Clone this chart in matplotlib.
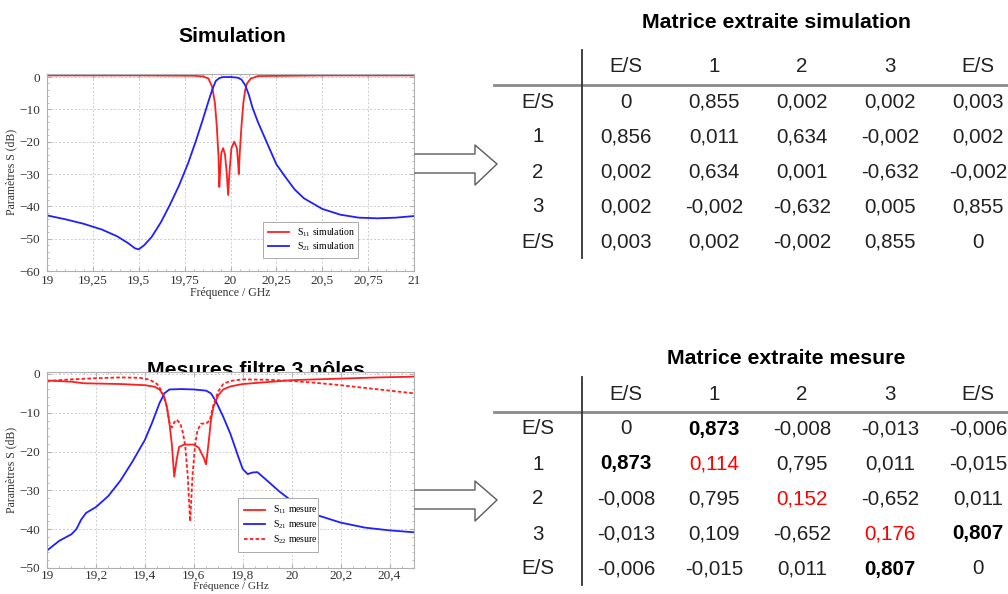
import matplotlib
matplotlib.use("Agg")
import matplotlib.pyplot as plt
from matplotlib.ticker import FuncFormatter, MultipleLocator
from matplotlib.lines import Line2D

# ---- data ----
sim_f_s11 = [19.0, 19.5, 19.8, 19.85, 19.88, 19.9, 19.915, 19.925, 19.935, 19.939,
             19.945, 19.95, 19.96, 19.97, 19.98, 19.987, 19.995, 20.005, 20.02,
             20.035, 20.042, 20.045, 20.05, 20.06, 20.07, 20.08, 20.09, 20.11,
             20.15, 20.5, 21.0]
sim_s11 = [0.5, 0.5, 0.4, 0.2, -0.5, -3.0, -8.0, -15.0, -25.0, -34.0,
           -28.0, -23.5, -22.0, -24.0, -30.0, -36.5, -29.0, -22.0, -20.0,
           -22.0, -27.0, -30.0, -24.0, -15.0, -8.0, -4.0, -2.0, -0.5,
           0.3, 0.5, 0.5]

sim_f_s21 = [19.0, 19.1, 19.2, 19.3, 19.38, 19.44, 19.48, 19.5, 19.53, 19.57,
             19.62, 19.67, 19.72, 19.77, 19.81, 19.85, 19.88, 19.9, 19.92, 19.94,
             19.96, 20.0, 20.04, 20.06, 20.08, 20.1, 20.12, 20.15, 20.2, 20.25,
             20.3, 20.35, 20.4, 20.5, 20.6, 20.7, 20.8, 20.9, 21.0]
sim_s21 = [-42.8, -44.0, -45.4, -47.2, -49.2, -51.3, -53.0, -53.3, -52.0, -49.5,
           -45.0, -39.5, -33.5, -26.5, -20.0, -13.0, -7.5, -4.0, -1.2, -0.3,
           0.0, 0.0, -0.2, -0.8, -2.5, -5.5, -9.5, -14.0, -20.5, -27.0,
           -31.0, -34.8, -37.5, -40.8, -42.6, -43.5, -43.7, -43.5, -43.0]

mes_f_s11 = [19.0, 19.1, 19.15, 19.3, 19.4, 19.44, 19.46, 19.48, 19.49, 19.5,
             19.51, 19.52, 19.53, 19.54, 19.56, 19.6, 19.62, 19.64, 19.65, 19.66,
             19.67, 19.68, 19.7, 19.72, 19.75, 19.8, 19.9, 20.0, 20.2, 20.35, 20.5]
mes_s11 = [-1.7, -2.0, -2.4, -2.6, -2.9, -3.3, -4.0, -6.0, -8.5, -12.5,
           -18.0, -26.5, -22.0, -18.8, -18.2, -18.2, -19.0, -21.5, -23.3, -18.0,
           -12.0, -8.5, -5.5, -4.0, -3.2, -2.6, -2.1, -1.6, -1.2, -0.9, -0.7]

mes_f_s22 = [19.0, 19.1, 19.2, 19.3, 19.38, 19.42, 19.45, 19.47, 19.49, 19.5,
             19.51, 19.52, 19.53, 19.545, 19.555, 19.565, 19.575, 19.585, 19.595,
             19.605, 19.615, 19.63, 19.65, 19.665, 19.68, 19.7, 19.72, 19.75,
             19.8, 19.9, 20.0, 20.1, 20.2, 20.3, 20.4, 20.5]
mes_s22 = [-1.8, -1.4, -1.1, -0.9, -1.0, -1.5, -2.6, -4.5, -8.5, -12.5,
           -13.8, -12.5, -11.8, -12.8, -15.0, -18.5, -26.0, -38.0, -26.0,
           -18.5, -14.5, -12.8, -12.8, -12.0, -8.0, -4.5, -2.6, -1.8,
           -1.4, -1.5, -1.8, -2.3, -2.9, -3.6, -4.3, -5.0]

mes_f_s21 = [19.0, 19.05, 19.1, 19.12, 19.14, 19.16, 19.2, 19.25, 19.3, 19.35,
             19.4, 19.43, 19.46, 19.48, 19.5, 19.55, 19.6, 19.65, 19.67, 19.69,
             19.72, 19.75, 19.78, 19.8, 19.82, 19.84, 19.86, 19.9, 19.95, 20.0,
             20.1, 20.2, 20.3, 20.4, 20.5]
mes_s21 = [-45.5, -43.0, -41.3, -40.0, -37.5, -35.8, -34.3, -31.5, -27.5, -22.5,
           -17.0, -12.5, -7.5, -5.0, -4.0, -3.9, -4.0, -4.3, -5.0, -7.0,
           -11.0, -15.5, -21.0, -24.5, -25.8, -25.4, -25.3, -27.5, -30.3, -32.7,
           -36.3, -38.3, -39.6, -40.3, -40.8]

nodes = ["E/S", "1", "2", "3", "E/S"]
sim_matrix = [
    [0, 0.855, 0.002, 0.002, 0.003],
    [0.856, 0.011, 0.634, -0.002, 0.002],
    [0.002, 0.634, 0.001, -0.632, -0.002],
    [0.002, -0.002, -0.632, 0.005, 0.855],
    [0.003, 0.002, -0.002, 0.855, 0],
]
mes_matrix = [
    [0, 0.873, -0.008, -0.013, -0.006],
    [0.873, 0.114, 0.795, 0.011, -0.015],
    [-0.008, 0.795, 0.152, -0.652, 0.011],
    [-0.013, 0.109, -0.652, 0.176, 0.807],
    [-0.006, -0.015, 0.011, 0.807, 0],
]
mes_bold = [(0, 1), (1, 0), (3, 4), (4, 3)]
mes_red = [(1, 1), (2, 2), (3, 3)]

# ---- figure ----
W, H = 1008, 594
plt.rcParams["mathtext.fontset"] = "custom"
plt.rcParams["mathtext.rm"] = "Liberation Serif"
plt.rcParams["mathtext.it"] = "Liberation Serif:italic"
fig = plt.figure(figsize=(W / 100, H / 100), dpi=100)

RED = "#ff1f1f"
BLUE = "#1f1fff"
SERIF = "Liberation Serif"
SANS = "Liberation Sans"


def px_rect(x0, y0, x1, y1):
    return [x0 / W, 1 - y1 / H, (x1 - x0) / W, (y1 - y0) / H]


def comma(v, pos):
    return f"{v:g}".replace(".", ",")


def style_axes(ax, xmaj, xmin, ymaj, xpad=3, xlabelsize=8.5):
    for s in ax.spines.values():
        s.set_color("#b0b0b0")
        s.set_linewidth(0.8)
    ax.xaxis.set_major_locator(MultipleLocator(xmaj))
    ax.xaxis.set_minor_locator(MultipleLocator(xmin))
    ax.yaxis.set_major_locator(MultipleLocator(ymaj))
    ax.yaxis.set_minor_locator(MultipleLocator(ymaj / 5))
    ax.xaxis.set_major_formatter(FuncFormatter(comma))
    ax.tick_params(which="both", direction="in", color="#b0b0b0",
                   top=True, right=True, labelsize=9.5, labelcolor="#333333")
    ax.tick_params(axis="x", pad=xpad)
    ax.tick_params(axis="y", pad=5)
    ax.tick_params(which="major", length=3)
    ax.tick_params(which="minor", length=1.5)
    for lab in ax.get_xticklabels() + ax.get_yticklabels():
        lab.set_fontfamily(SERIF)
    ax.grid(True, which="major", color="#cccccc", linestyle=(0, (2, 2)), linewidth=0.7)
    ax.set_xlabel("Fréquence / GHz", family=SERIF, fontsize=xlabelsize, color="#333333",
                  labelpad=0)
    ax.set_ylabel("Paramètres S (dB)", family=SERIF, fontsize=8.5, color="#333333", labelpad=1)


# simulation plot
ax1 = fig.add_axes(px_rect(47, 73.8, 414, 271))
ax1.plot(sim_f_s11, sim_s11, color=RED, lw=1.3, label="S$_{11}$ simulation")
ax1.plot(sim_f_s21, sim_s21, color=BLUE, lw=1.3, label="S$_{21}$ simulation")
ax1.set_xlim(19, 21)
ax1.set_ylim(-60, 1.0)
style_axes(ax1, 0.25, 0.05, 10)
leg1 = ax1.legend(loc="lower left", bbox_to_anchor=(0.575, 0.04, 0.285, 0.18),
                  mode="expand", prop={"family": SERIF, "size": 7},
                  fancybox=False, edgecolor="#aaaaaa", framealpha=1,
                  handlelength=2.2, borderpad=0.5, labelspacing=0.2)
leg1.get_frame().set_linewidth(0.7)

# measurement plot
ax2 = fig.add_axes(px_rect(47, 372, 414, 568))
ax2.plot(mes_f_s11, mes_s11, color=RED, lw=1.3, label="S$_{11}$ mesure")
ax2.plot(mes_f_s21, mes_s21, color=BLUE, lw=1.3, label="S$_{21}$ mesure")
ax2.plot(mes_f_s22, mes_s22, color=RED, lw=1.3, linestyle=(0, (2, 1.2)), label="S$_{22}$ mesure")
ax2.set_xlim(19, 20.5)
ax2.set_ylim(-50, 0.5)
style_axes(ax2, 0.2, 0.05, 10, xpad=1.5, xlabelsize=8)
leg2 = ax2.legend(loc="lower left", bbox_to_anchor=(0.507, 0.056, 0.245, 0.227),
                  mode="expand", prop={"family": SERIF, "size": 7},
                  fancybox=False, edgecolor="#aaaaaa", framealpha=1,
                  handlelength=2.2, borderpad=0.6, labelspacing=0.25)
leg2.get_frame().set_linewidth(0.7)

# plot titles (the second one is partly hidden by the plot, as in the slide)
fig.text(232 / W, 1 - 36.5 / H, "Simulation", family=SANS, fontsize=15.2,
         fontweight="bold", ha="center", va="center")
fig.text(256 / W, 1 - 376 / H, "Mesures filtre 3 pôles", family=SANS, fontsize=15.3,
         fontweight="bold", ha="center", va="baseline", zorder=-5)

# block arrows
for dy in (0, 336):
    xs = [415, 475, 475, 497, 475, 475, 415]
    ys = [154, 154, 145, 164, 185, 173, 173]
    fig.add_artist(Line2D([x / W for x in xs], [1 - (y + dy) / H for y in ys],
                          color="#5a5a5a", lw=1.0))


def fmt(v):
    if v == 0:
        return "0"
    return f"{v:.3f}".replace(".", ",")


def draw_table(y_header, title, title_y, title_x, matrix, bold=(), red=()):
    # columns at x = 538 + 88*i px, rows at y = y_header + 35*r px
    top, bot = y_header - 30, y_header + 200
    ax = fig.add_axes(px_rect(494, top, 1008, bot))
    ax.set_xlim(-0.5, (1008 - 538) / 88)
    ax.set_ylim((bot - y_header) / 35, (top - y_header) / 35)
    ax.axis("off")
    kw = dict(family=SANS, fontsize=14.8, ha="center", va="center", color="#222222")
    for j, name in enumerate(nodes):
        ax.text(j + 1, 0, name, **kw)
    for i, name in enumerate(nodes):
        ax.text(0, i + 1, name, **kw)
        for j, v in enumerate(matrix[i]):
            c = dict(kw)
            if (i, j) in bold:
                c.update(fontweight="bold", color="black")
            if (i, j) in red:
                c.update(color="#ff0000")
            ax.text(j + 1, i + 1, fmt(v), **c)
    ax.plot([-0.5, 5.34], [0.5, 0.5], color="#8a8a8a", lw=2, clip_on=False)
    ax.plot([0.5, 0.5], [-0.486, 5.457], color="#333333", lw=1.3, clip_on=False)
    ax.text((title_x - 538) / 88, (title_y - y_header) / 35, title, family=SANS,
            fontsize=15.3, fontweight="bold", ha="center", va="center")


draw_table(67, "Matrice extraite simulation", 22, 776, sim_matrix)
draw_table(394, "Matrice extraite mesure", 358, 786, mes_matrix, mes_bold, mes_red)

fig.savefig("out.png", dpi=100)
